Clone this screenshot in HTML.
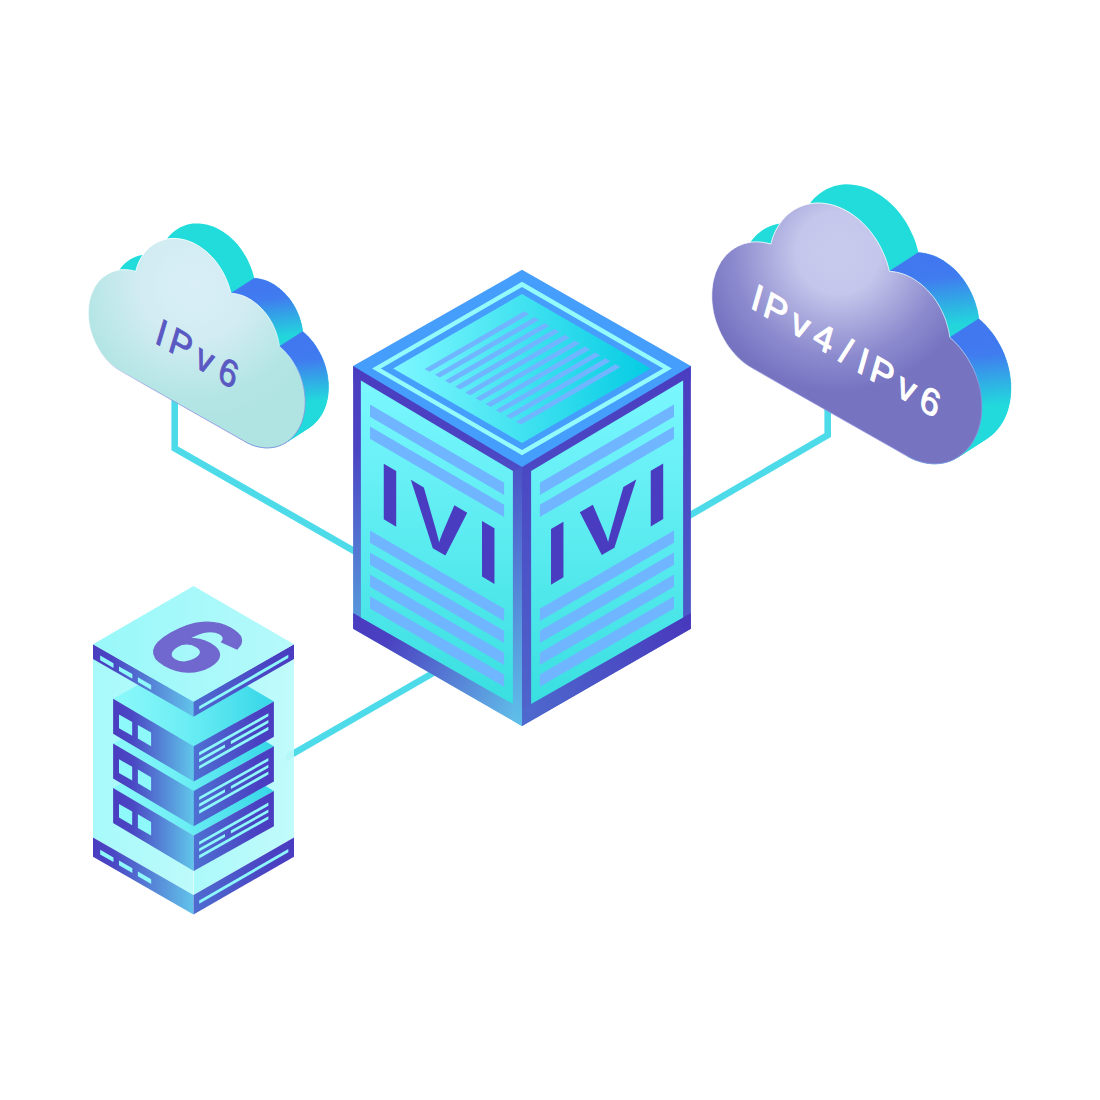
<!DOCTYPE html>
<html lang="en">
<head>
<meta charset="utf-8">
<title>IVI IPv4/IPv6 translation</title>
<style>
html,body{margin:0;padding:0;background:#ffffff;}
body{width:1100px;height:1100px;overflow:hidden;font-family:"Liberation Sans",sans-serif;}
svg{display:block;}
</style>
</head>
<body>
<svg width="1100" height="1100" viewBox="0 0 1100 1100">
<defs>

<linearGradient id="gTop" gradientUnits="userSpaceOnUse" x1="400" y1="368" x2="650" y2="368">
 <stop offset="0" stop-color="#7af6ff"/><stop offset="0.35" stop-color="#52e8f4"/><stop offset="1" stop-color="#05cce3"/></linearGradient>
<linearGradient id="gPanel" gradientUnits="userSpaceOnUse" x1="0" y1="380" x2="0" y2="705">
 <stop offset="0" stop-color="#7bf7ff"/><stop offset="1" stop-color="#39dfe0"/></linearGradient>
<linearGradient id="gFrameL" gradientUnits="userSpaceOnUse" x1="0" y1="366" x2="0" y2="640">
 <stop offset="0" stop-color="#4a3cc0"/><stop offset="0.3" stop-color="#4b44c3"/><stop offset="1" stop-color="#59a2de"/></linearGradient>
<linearGradient id="gStripL" gradientUnits="userSpaceOnUse" x1="0" y1="467" x2="0" y2="726">
 <stop offset="0" stop-color="#4c52c6"/><stop offset="1" stop-color="#5ec0ea"/></linearGradient>
<linearGradient id="gBandL" gradientUnits="userSpaceOnUse" x1="353" y1="620" x2="522" y2="717">
 <stop offset="0" stop-color="#4a3cc0"/><stop offset="0.2" stop-color="#4a40c1"/><stop offset="1" stop-color="#62c0ea"/></linearGradient>
<linearGradient id="gFrameR" gradientUnits="userSpaceOnUse" x1="0" y1="366" x2="0" y2="726">
 <stop offset="0" stop-color="#4a3cc0"/><stop offset="1" stop-color="#4e66cc"/></linearGradient>
<linearGradient id="gBandR" gradientUnits="userSpaceOnUse" x1="691" y1="620" x2="522" y2="717">
 <stop offset="0" stop-color="#4838bc"/><stop offset="1" stop-color="#4e6ace"/></linearGradient>

<linearGradient id="gSide3" gradientUnits="userSpaceOnUse" x1="265" y1="290" x2="271" y2="338">
 <stop offset="0" stop-color="#4178f0"/><stop offset="0.2" stop-color="#407cef"/><stop offset="1" stop-color="#22d6dc"/></linearGradient>
<linearGradient id="gSide4" gradientUnits="userSpaceOnUse" x1="305" y1="350" x2="310" y2="402">
 <stop offset="0" stop-color="#4178f0"/><stop offset="0.2" stop-color="#407cef"/><stop offset="1" stop-color="#22dadc"/></linearGradient>
<radialGradient id="gCloudL" gradientUnits="userSpaceOnUse" cx="195" cy="285" r="135">
 <stop offset="0" stop-color="#d9eef7"/><stop offset="0.4" stop-color="#d2ecf2"/><stop offset="0.85" stop-color="#b3e5e4"/><stop offset="1" stop-color="#b0e4e2"/></radialGradient>
<radialGradient id="gCloudR" gradientUnits="userSpaceOnUse" cx="190" cy="278" r="112">
 <stop offset="0" stop-color="#c8caed"/><stop offset="0.3" stop-color="#c4c6eb"/><stop offset="0.75" stop-color="#8c8ace"/><stop offset="1" stop-color="#7674c1"/></radialGradient>
<linearGradient id="gEdge" gradientUnits="userSpaceOnUse" x1="0" y1="240" x2="0" y2="450">
 <stop offset="0" stop-color="#ffffff" stop-opacity="0.9"/><stop offset="0.5" stop-color="#ffffff" stop-opacity="0.6"/><stop offset="0.7" stop-color="#8d8fe0" stop-opacity="0.7"/><stop offset="1" stop-color="#8d8fe0" stop-opacity="0.9"/></linearGradient>

<linearGradient id="gGlassL" gradientUnits="userSpaceOnUse" x1="93" y1="0" x2="193.5" y2="0">
 <stop offset="0" stop-color="#a0f9fa"/><stop offset="1" stop-color="#b8fafb"/></linearGradient>
<linearGradient id="gGlassR" gradientUnits="userSpaceOnUse" x1="193.5" y1="0" x2="294" y2="0">
 <stop offset="0" stop-color="#a5f9fa"/><stop offset="1" stop-color="#bdfafb"/></linearGradient>
<linearGradient id="gPlateTop" gradientUnits="userSpaceOnUse" x1="93" y1="644" x2="294" y2="644">
 <stop offset="0" stop-color="#98f8f9"/><stop offset="1" stop-color="#b6f9fb"/></linearGradient>
<linearGradient id="gSideL" gradientUnits="userSpaceOnUse" x1="93" y1="0" x2="193.5" y2="0">
 <stop offset="0" stop-color="#4a3cc0"/><stop offset="0.2" stop-color="#4a46c4"/><stop offset="1" stop-color="#62c4ea"/></linearGradient>
<linearGradient id="gSideR" gradientUnits="userSpaceOnUse" x1="193.5" y1="0" x2="294" y2="0">
 <stop offset="0" stop-color="#4e6cd0"/><stop offset="0.8" stop-color="#4a40c2"/><stop offset="1" stop-color="#4a3cc0"/></linearGradient>
<linearGradient id="gUnitL" gradientUnits="userSpaceOnUse" x1="113" y1="0" x2="193.5" y2="0">
 <stop offset="0" stop-color="#4a3cc0"/><stop offset="0.25" stop-color="#4a48c4"/><stop offset="1" stop-color="#60c6ea"/></linearGradient>
<linearGradient id="gUnitR" gradientUnits="userSpaceOnUse" x1="193.5" y1="0" x2="274" y2="0">
 <stop offset="0" stop-color="#4e70d2"/><stop offset="0.8" stop-color="#4a40c2"/><stop offset="1" stop-color="#4a3cc0"/></linearGradient>
<linearGradient id="gUnitTop" gradientUnits="userSpaceOnUse" x1="113" y1="0" x2="274" y2="0">
 <stop offset="0" stop-color="#8cf9fb"/><stop offset="0.45" stop-color="#6ceef4"/><stop offset="1" stop-color="#35d6e8"/></linearGradient>

</defs>
<rect width="1100" height="1100" fill="#ffffff"/>
<g fill="none" stroke="#4ddbea" stroke-width="6.6" stroke-linejoin="miter">
<polyline points="174.7,395 174.7,448.3 360,554.4"/>
<polyline points="827.7,400 827.7,435.2 685,518.2"/>
</g>
<polygon fill="#4ddbea" points="286,754 286,761.6 450,667 450,659.4"/>
<polygon fill="#469efc" points="522.0,269.8 690.9,366.1 690.9,380.0 522.0,480.0 353.1,380.0 353.1,366.1"/>
<polygon fill="#93fbfb" points="522.0,281.8 671.9,368.5 522.0,455.2 372.1,368.5"/>
<polygon fill="#469efc" points="522.0,286.9 663.1,368.5 522.0,450.1 380.9,368.5"/>
<polygon fill="url(#gTop)" points="522.0,294.0 650.8,368.5 522.0,443.0 393.2,368.5"/>
<polygon fill="#70b5ff" points="424.7,368.9 524.2,311.3 529.1,314.2 429.6,371.7"/>
<polygon fill="#70b5ff" points="434.9,374.8 534.4,317.2 539.2,320.1 439.8,377.6"/>
<polygon fill="#70b5ff" points="445.0,380.6 544.5,323.1 549.4,325.9 449.9,383.5"/>
<polygon fill="#70b5ff" points="455.1,386.5 554.6,329.0 559.5,331.8 460.1,389.4"/>
<polygon fill="#70b5ff" points="465.3,392.4 564.8,334.8 569.7,337.7 470.2,395.2"/>
<polygon fill="#70b5ff" points="475.5,398.3 575.0,340.7 579.9,343.5 480.4,401.1"/>
<polygon fill="#70b5ff" points="485.6,404.1 585.1,346.6 590.0,349.4 490.5,407.0"/>
<polygon fill="#70b5ff" points="495.8,410.0 595.2,352.4 600.1,355.3 500.6,412.8"/>
<polygon fill="#70b5ff" points="505.9,415.9 605.4,358.3 610.3,361.2 510.8,418.7"/>
<polygon fill="#70b5ff" points="516.0,421.8 615.5,364.2 620.5,367.0 521.0,424.6"/>
<polygon fill="url(#gFrameL)" points="353.1,366.1 522.0,467.1 522.0,725.9 353.1,628.8"/>
<polygon fill="url(#gBandL)" points="353.1,613.0 522.0,709.4 522.0,725.9 353.1,628.8"/>
<polygon fill="url(#gStripL)" points="512.9,470.9 522.0,467.1 522.0,725.9 512.9,720.7"/>
<polygon fill="url(#gPanel)" points="360.9,380.6 512.9,470.9 512.9,704.1 360.9,617.6"/>
<polygon fill="#70b5ff" points="370.0,404.5 504.1,482.8 504.1,495.1 370.0,416.8"/>
<polygon fill="#70b5ff" points="370.0,426.4 504.1,504.7 504.1,517.0 370.0,438.7"/>
<polygon fill="#70b5ff" points="370.0,530.4 504.1,608.7 504.1,621.0 370.0,542.7"/>
<polygon fill="#70b5ff" points="370.0,552.4 504.1,630.7 504.1,643.0 370.0,564.7"/>
<polygon fill="#70b5ff" points="370.0,574.4 504.1,652.7 504.1,665.0 370.0,586.7"/>
<polygon fill="#70b5ff" points="370.0,596.2 504.1,674.5 504.1,686.8 370.0,608.5"/>
<polygon fill="url(#gFrameR)" points="690.9,366.1 522.0,467.1 522.0,725.9 690.9,628.8"/>
<polygon fill="url(#gBandR)" points="690.9,613.0 522.0,709.4 522.0,725.9 690.9,628.8"/>
<polygon fill="url(#gPanel)" points="683.1,380.6 531.1,470.9 531.1,704.1 683.1,617.6"/>
<polygon fill="#70b5ff" points="674.0,404.5 539.9,482.8 539.9,495.1 674.0,416.8"/>
<polygon fill="#70b5ff" points="674.0,426.4 539.9,504.7 539.9,517.0 674.0,438.7"/>
<polygon fill="#70b5ff" points="674.0,530.4 539.9,608.7 539.9,621.0 674.0,542.7"/>
<polygon fill="#70b5ff" points="674.0,552.4 539.9,630.7 539.9,643.0 674.0,564.7"/>
<polygon fill="#70b5ff" points="674.0,574.4 539.9,652.7 539.9,665.0 674.0,586.7"/>
<polygon fill="#70b5ff" points="674.0,596.2 539.9,674.5 539.9,686.8 674.0,608.5"/>
<g font-family="'Liberation Sans', sans-serif" font-weight="700" font-size="80.7" fill="#4a3cc0">
<text id="iviL" transform="matrix(1.07 0.6245 0 1 0 0)" x="353.2 383.5 445" y="295.4">IVI</text>
<text id="iviR" transform="matrix(1.07 -0.6245 0 1 0 0)" x="509.5 541.3 602.8" y="906.2">IVI</text>
</g>
<g id="cl">
<polygon fill="#22dcdc" points="144.1,356.1 141.1,354.3 138.2,352.3 135.4,350.0 132.7,347.6 130.1,344.9 127.7,342.1 125.3,339.1 123.2,336.0 121.2,332.7 119.3,329.3 117.7,325.8 116.2,322.2 114.9,318.6 113.8,314.9 112.9,311.2 112.3,307.4 111.8,303.7 111.6,300.0 111.6,296.3 111.8,292.7 112.2,289.1 112.8,285.7 113.7,282.3 114.7,279.1 116.0,276.1 117.4,273.2 119.0,270.4 120.9,267.8 122.8,265.5 125.0,263.3 127.3,261.4 129.7,259.7 132.3,258.2 135.0,257.0 137.8,256.0 140.7,255.3 143.6,254.8 146.6,254.6 149.7,254.7 152.8,255.0 155.9,255.6 159.0,256.4 160.0,252.8 161.2,249.4 162.6,246.1 164.3,243.0 166.1,240.1 168.1,237.3 170.3,234.8 172.7,232.5 175.3,230.5 177.9,228.7 180.8,227.1 183.7,225.9 186.7,224.8 189.9,224.1 193.1,223.6 196.4,223.4 199.7,223.5 203.1,223.9 206.5,224.5 209.8,225.4 213.2,226.6 216.5,228.0 219.8,229.7 223.1,231.7 226.2,233.9 229.3,236.3 232.2,238.9 235.1,241.8 237.8,244.8 240.3,248.0 242.7,251.4 244.9,254.9 247.0,258.6 248.8,262.4 250.5,266.2 252.0,270.2 253.2,274.2 254.2,278.2 257.1,278.5 260.0,279.0 262.9,279.7 265.8,280.6 268.7,281.8 271.5,283.2 274.3,284.8 277.0,286.7 279.7,288.7 282.2,290.9 284.7,293.3 287.0,295.9 289.3,298.6 291.4,301.5 293.3,304.5 295.1,307.6 296.7,310.8 298.2,314.2 299.5,317.5 300.5,321.0 301.5,324.4 302.2,327.9 302.7,331.4 305.5,333.9 308.2,336.6 310.8,339.5 313.3,342.6 315.6,345.8 317.7,349.2 319.7,352.7 321.5,356.2 323.1,359.9 324.5,363.7 325.7,367.5 326.7,371.4 327.5,375.3 328.0,379.2 328.4,383.0 328.5,386.9 328.4,390.7 328.1,394.4 327.6,398.0 326.8,401.6 325.9,405.0 324.7,408.3 323.3,411.4 321.7,414.4 320.0,417.1 318.0,419.7 315.9,422.1 313.6,424.3 311.2,426.2 308.6,427.9 305.9,429.4 303.1,430.6 300.2,431.6 297.2,432.3 294.1,432.7 290.9,432.9 287.8,432.8 284.5,432.4 281.3,431.8 278.1,430.9 274.9,429.8 271.7,428.4 268.5,426.7"/>
<path fill="url(#gSide3)" stroke="url(#gSide3)" stroke-width="0.4" stroke-linejoin="round" d="M254.2 278.2L257.1 278.5L233.8 293.5L230.9 293.2ZM257.1 278.5L260.0 279.0L236.7 294.0L233.8 293.5ZM260.0 279.0L262.9 279.7L239.6 294.7L236.7 294.0ZM262.9 279.7L265.8 280.6L242.5 295.6L239.6 294.7ZM265.8 280.6L268.7 281.8L245.4 296.8L242.5 295.6ZM268.7 281.8L271.5 283.2L248.2 298.2L245.4 296.8ZM271.5 283.2L274.3 284.8L251.0 299.8L248.2 298.2ZM274.3 284.8L277.0 286.7L253.7 301.7L251.0 299.8ZM277.0 286.7L279.7 288.7L256.4 303.7L253.7 301.7ZM279.7 288.7L282.2 290.9L258.9 305.9L256.4 303.7ZM282.2 290.9L284.7 293.3L261.4 308.3L258.9 305.9ZM284.7 293.3L287.0 295.9L263.7 310.9L261.4 308.3ZM287.0 295.9L289.3 298.6L266.0 313.6L263.7 310.9ZM289.3 298.6L291.4 301.5L268.1 316.5L266.0 313.6ZM291.4 301.5L293.3 304.5L270.0 319.5L268.1 316.5ZM293.3 304.5L295.1 307.6L271.8 322.6L270.0 319.5ZM295.1 307.6L296.7 310.8L273.4 325.8L271.8 322.6ZM296.7 310.8L298.2 314.2L274.9 329.2L273.4 325.8ZM298.2 314.2L299.5 317.5L276.2 332.5L274.9 329.2ZM299.5 317.5L300.5 321.0L277.2 336.0L276.2 332.5ZM300.5 321.0L301.5 324.4L278.2 339.4L277.2 336.0ZM301.5 324.4L302.2 327.9L278.9 342.9L278.2 339.4ZM302.2 327.9L302.7 331.4L279.4 346.4L278.9 342.9Z"/>
<path fill="url(#gSide4)" stroke="url(#gSide4)" stroke-width="0.4" stroke-linejoin="round" d="M302.7 331.4L305.5 333.9L282.2 348.9L279.4 346.4ZM305.5 333.9L308.2 336.6L284.9 351.6L282.2 348.9ZM308.2 336.6L310.8 339.5L287.5 354.5L284.9 351.6ZM310.8 339.5L313.3 342.6L290.0 357.6L287.5 354.5ZM313.3 342.6L315.6 345.8L292.3 360.8L290.0 357.6ZM315.6 345.8L317.7 349.2L294.4 364.2L292.3 360.8ZM317.7 349.2L319.7 352.7L296.4 367.7L294.4 364.2ZM319.7 352.7L321.5 356.2L298.2 371.2L296.4 367.7ZM321.5 356.2L323.1 359.9L299.8 374.9L298.2 371.2ZM323.1 359.9L324.5 363.7L301.2 378.7L299.8 374.9ZM324.5 363.7L325.7 367.5L302.4 382.5L301.2 378.7ZM325.7 367.5L326.7 371.4L303.4 386.4L302.4 382.5ZM326.7 371.4L327.5 375.3L304.2 390.3L303.4 386.4ZM327.5 375.3L328.0 379.2L304.7 394.2L304.2 390.3ZM328.0 379.2L328.4 383.0L305.1 398.0L304.7 394.2ZM328.4 383.0L328.5 386.9L305.2 401.9L305.1 398.0ZM328.5 386.9L328.4 390.7L305.1 405.7L305.2 401.9ZM328.4 390.7L328.1 394.4L304.8 409.4L305.1 405.7ZM328.1 394.4L327.6 398.0L304.3 413.0L304.8 409.4ZM327.6 398.0L326.8 401.6L303.5 416.6L304.3 413.0ZM326.8 401.6L325.9 405.0L302.6 420.0L303.5 416.6ZM325.9 405.0L324.7 408.3L301.4 423.3L302.6 420.0ZM324.7 408.3L323.3 411.4L300.0 426.4L301.4 423.3ZM323.3 411.4L321.7 414.4L298.4 429.4L300.0 426.4ZM321.7 414.4L320.0 417.1L296.7 432.1L298.4 429.4ZM320.0 417.1L318.0 419.7L294.7 434.7L296.7 432.1ZM318.0 419.7L315.9 422.1L292.6 437.1L294.7 434.7ZM315.9 422.1L313.6 424.3L290.3 439.3L292.6 437.1ZM313.6 424.3L311.2 426.2L287.9 441.2L290.3 439.3ZM311.2 426.2L308.6 427.9L285.3 442.9L287.9 441.2ZM285.3 442.9L282.6 444.4L305.9 429.4L308.6 427.9ZM282.6 444.4L279.8 445.6L303.1 430.6L305.9 429.4ZM279.8 445.6L276.9 446.6L300.2 431.6L303.1 430.6ZM276.9 446.6L273.9 447.3L297.2 432.3L300.2 431.6ZM273.9 447.3L270.8 447.7L294.1 432.7L297.2 432.3ZM270.8 447.7L267.6 447.9L290.9 432.9L294.1 432.7ZM267.6 447.9L264.5 447.8L287.8 432.8L290.9 432.9ZM264.5 447.8L261.2 447.4L284.5 432.4L287.8 432.8ZM261.2 447.4L258.0 446.8L281.3 431.8L284.5 432.4ZM258.0 446.8L254.8 445.9L278.1 430.9L281.3 431.8ZM254.8 445.9L251.6 444.8L274.9 429.8L278.1 430.9ZM251.6 444.8L248.4 443.4L271.7 428.4L274.9 429.8ZM248.4 443.4L245.2 441.7L268.5 426.7L271.7 428.4Z"/>
</g>
<polygon fill="url(#gCloudL)" stroke="url(#gEdge)" stroke-width="1" points="120.8,371.1 117.8,369.3 114.9,367.3 112.1,365.0 109.4,362.6 106.8,359.9 104.4,357.1 102.0,354.1 99.9,351.0 97.9,347.7 96.0,344.3 94.4,340.8 92.9,337.2 91.6,333.6 90.5,329.9 89.6,326.2 89.0,322.4 88.5,318.7 88.3,315.0 88.3,311.3 88.5,307.7 88.9,304.1 89.5,300.7 90.4,297.3 91.4,294.1 92.7,291.1 94.1,288.2 95.7,285.4 97.6,282.8 99.5,280.5 101.7,278.3 104.0,276.4 106.4,274.7 109.0,273.2 111.7,272.0 114.5,271.0 117.4,270.3 120.3,269.8 123.3,269.6 126.4,269.7 129.5,270.0 132.6,270.6 135.7,271.4 136.7,267.8 137.9,264.4 139.3,261.1 141.0,258.0 142.8,255.1 144.8,252.3 147.0,249.8 149.4,247.5 152.0,245.5 154.6,243.7 157.5,242.1 160.4,240.9 163.4,239.8 166.6,239.1 169.8,238.6 173.1,238.4 176.4,238.5 179.8,238.9 183.2,239.5 186.5,240.4 189.9,241.6 193.2,243.0 196.5,244.7 199.8,246.7 202.9,248.9 206.0,251.3 208.9,253.9 211.8,256.8 214.5,259.8 217.0,263.0 219.4,266.4 221.6,269.9 223.7,273.6 225.5,277.4 227.2,281.2 228.7,285.2 229.9,289.2 230.9,293.2 233.8,293.5 236.7,294.0 239.6,294.7 242.5,295.6 245.4,296.8 248.2,298.2 251.0,299.8 253.7,301.7 256.4,303.7 258.9,305.9 261.4,308.3 263.7,310.9 266.0,313.6 268.1,316.5 270.0,319.5 271.8,322.6 273.4,325.8 274.9,329.2 276.2,332.5 277.2,336.0 278.2,339.4 278.9,342.9 279.4,346.4 282.2,348.9 284.9,351.6 287.5,354.5 290.0,357.6 292.3,360.8 294.4,364.2 296.4,367.7 298.2,371.2 299.8,374.9 301.2,378.7 302.4,382.5 303.4,386.4 304.2,390.3 304.7,394.2 305.1,398.0 305.2,401.9 305.1,405.7 304.8,409.4 304.3,413.0 303.5,416.6 302.6,420.0 301.4,423.3 300.0,426.4 298.4,429.4 296.7,432.1 294.7,434.7 292.6,437.1 290.3,439.3 287.9,441.2 285.3,442.9 282.6,444.4 279.8,445.6 276.9,446.6 273.9,447.3 270.8,447.7 267.6,447.9 264.5,447.8 261.2,447.4 258.0,446.8 254.8,445.9 251.6,444.8 248.4,443.4 245.2,441.7"/>
<text id="t6" font-family="'Liberation Sans', sans-serif" font-size="36.4" letter-spacing="6.8" dx="0 -1.5 0 1.5" fill="#5a58c2" stroke="#5a58c2" stroke-width="0.9" transform="matrix(0.857 0.515 -0.289 0.957 153.8 342)">IPv6</text>
<g transform="translate(601.9 -93.8) scale(1.245)">
<g id="cr">
<polygon fill="#22dcdc" points="144.1,356.1 141.1,354.3 138.2,352.3 135.4,350.0 132.7,347.6 130.1,344.9 127.7,342.1 125.3,339.1 123.2,336.0 121.2,332.7 119.3,329.3 117.7,325.8 116.2,322.2 114.9,318.6 113.8,314.9 112.9,311.2 112.3,307.4 111.8,303.7 111.6,300.0 111.6,296.3 111.8,292.7 112.2,289.1 112.8,285.7 113.7,282.3 114.7,279.1 116.0,276.1 117.4,273.2 119.0,270.4 120.9,267.8 122.8,265.5 125.0,263.3 127.3,261.4 129.7,259.7 132.3,258.2 135.0,257.0 137.8,256.0 140.7,255.3 143.6,254.8 146.6,254.6 149.7,254.7 152.8,255.0 155.9,255.6 159.0,256.4 160.0,252.8 161.2,249.4 162.6,246.1 164.3,243.0 166.1,240.1 168.1,237.3 170.3,234.8 172.7,232.5 175.3,230.5 177.9,228.7 180.8,227.1 183.7,225.9 186.7,224.8 189.9,224.1 193.1,223.6 196.4,223.4 199.7,223.5 203.1,223.9 206.5,224.5 209.8,225.4 213.2,226.6 216.5,228.0 219.8,229.7 223.1,231.7 226.2,233.9 229.3,236.3 232.2,238.9 235.1,241.8 237.8,244.8 240.3,248.0 242.7,251.4 244.9,254.9 247.0,258.6 248.8,262.4 250.5,266.2 252.0,270.2 253.2,274.2 254.2,278.2 257.1,278.5 260.0,279.0 262.9,279.7 265.8,280.6 268.7,281.8 271.5,283.2 274.3,284.8 277.0,286.7 279.7,288.7 282.2,290.9 284.7,293.3 287.0,295.9 289.3,298.6 291.4,301.5 293.3,304.5 295.1,307.6 296.7,310.8 298.2,314.2 299.5,317.5 300.5,321.0 301.5,324.4 302.2,327.9 302.7,331.4 305.5,333.9 308.2,336.6 310.8,339.5 313.3,342.6 315.6,345.8 317.7,349.2 319.7,352.7 321.5,356.2 323.1,359.9 324.5,363.7 325.7,367.5 326.7,371.4 327.5,375.3 328.0,379.2 328.4,383.0 328.5,386.9 328.4,390.7 328.1,394.4 327.6,398.0 326.8,401.6 325.9,405.0 324.7,408.3 323.3,411.4 321.7,414.4 320.0,417.1 318.0,419.7 315.9,422.1 313.6,424.3 311.2,426.2 308.6,427.9 305.9,429.4 303.1,430.6 300.2,431.6 297.2,432.3 294.1,432.7 290.9,432.9 287.8,432.8 284.5,432.4 281.3,431.8 278.1,430.9 274.9,429.8 271.7,428.4 268.5,426.7"/>
<path fill="url(#gSide3)" stroke="url(#gSide3)" stroke-width="0.4" stroke-linejoin="round" d="M254.2 278.2L257.1 278.5L233.8 293.5L230.9 293.2ZM257.1 278.5L260.0 279.0L236.7 294.0L233.8 293.5ZM260.0 279.0L262.9 279.7L239.6 294.7L236.7 294.0ZM262.9 279.7L265.8 280.6L242.5 295.6L239.6 294.7ZM265.8 280.6L268.7 281.8L245.4 296.8L242.5 295.6ZM268.7 281.8L271.5 283.2L248.2 298.2L245.4 296.8ZM271.5 283.2L274.3 284.8L251.0 299.8L248.2 298.2ZM274.3 284.8L277.0 286.7L253.7 301.7L251.0 299.8ZM277.0 286.7L279.7 288.7L256.4 303.7L253.7 301.7ZM279.7 288.7L282.2 290.9L258.9 305.9L256.4 303.7ZM282.2 290.9L284.7 293.3L261.4 308.3L258.9 305.9ZM284.7 293.3L287.0 295.9L263.7 310.9L261.4 308.3ZM287.0 295.9L289.3 298.6L266.0 313.6L263.7 310.9ZM289.3 298.6L291.4 301.5L268.1 316.5L266.0 313.6ZM291.4 301.5L293.3 304.5L270.0 319.5L268.1 316.5ZM293.3 304.5L295.1 307.6L271.8 322.6L270.0 319.5ZM295.1 307.6L296.7 310.8L273.4 325.8L271.8 322.6ZM296.7 310.8L298.2 314.2L274.9 329.2L273.4 325.8ZM298.2 314.2L299.5 317.5L276.2 332.5L274.9 329.2ZM299.5 317.5L300.5 321.0L277.2 336.0L276.2 332.5ZM300.5 321.0L301.5 324.4L278.2 339.4L277.2 336.0ZM301.5 324.4L302.2 327.9L278.9 342.9L278.2 339.4ZM302.2 327.9L302.7 331.4L279.4 346.4L278.9 342.9Z"/>
<path fill="url(#gSide4)" stroke="url(#gSide4)" stroke-width="0.4" stroke-linejoin="round" d="M302.7 331.4L305.5 333.9L282.2 348.9L279.4 346.4ZM305.5 333.9L308.2 336.6L284.9 351.6L282.2 348.9ZM308.2 336.6L310.8 339.5L287.5 354.5L284.9 351.6ZM310.8 339.5L313.3 342.6L290.0 357.6L287.5 354.5ZM313.3 342.6L315.6 345.8L292.3 360.8L290.0 357.6ZM315.6 345.8L317.7 349.2L294.4 364.2L292.3 360.8ZM317.7 349.2L319.7 352.7L296.4 367.7L294.4 364.2ZM319.7 352.7L321.5 356.2L298.2 371.2L296.4 367.7ZM321.5 356.2L323.1 359.9L299.8 374.9L298.2 371.2ZM323.1 359.9L324.5 363.7L301.2 378.7L299.8 374.9ZM324.5 363.7L325.7 367.5L302.4 382.5L301.2 378.7ZM325.7 367.5L326.7 371.4L303.4 386.4L302.4 382.5ZM326.7 371.4L327.5 375.3L304.2 390.3L303.4 386.4ZM327.5 375.3L328.0 379.2L304.7 394.2L304.2 390.3ZM328.0 379.2L328.4 383.0L305.1 398.0L304.7 394.2ZM328.4 383.0L328.5 386.9L305.2 401.9L305.1 398.0ZM328.5 386.9L328.4 390.7L305.1 405.7L305.2 401.9ZM328.4 390.7L328.1 394.4L304.8 409.4L305.1 405.7ZM328.1 394.4L327.6 398.0L304.3 413.0L304.8 409.4ZM327.6 398.0L326.8 401.6L303.5 416.6L304.3 413.0ZM326.8 401.6L325.9 405.0L302.6 420.0L303.5 416.6ZM325.9 405.0L324.7 408.3L301.4 423.3L302.6 420.0ZM324.7 408.3L323.3 411.4L300.0 426.4L301.4 423.3ZM323.3 411.4L321.7 414.4L298.4 429.4L300.0 426.4ZM321.7 414.4L320.0 417.1L296.7 432.1L298.4 429.4ZM320.0 417.1L318.0 419.7L294.7 434.7L296.7 432.1ZM318.0 419.7L315.9 422.1L292.6 437.1L294.7 434.7ZM315.9 422.1L313.6 424.3L290.3 439.3L292.6 437.1ZM313.6 424.3L311.2 426.2L287.9 441.2L290.3 439.3ZM311.2 426.2L308.6 427.9L285.3 442.9L287.9 441.2ZM285.3 442.9L282.6 444.4L305.9 429.4L308.6 427.9ZM282.6 444.4L279.8 445.6L303.1 430.6L305.9 429.4ZM279.8 445.6L276.9 446.6L300.2 431.6L303.1 430.6ZM276.9 446.6L273.9 447.3L297.2 432.3L300.2 431.6ZM273.9 447.3L270.8 447.7L294.1 432.7L297.2 432.3ZM270.8 447.7L267.6 447.9L290.9 432.9L294.1 432.7ZM267.6 447.9L264.5 447.8L287.8 432.8L290.9 432.9ZM264.5 447.8L261.2 447.4L284.5 432.4L287.8 432.8ZM261.2 447.4L258.0 446.8L281.3 431.8L284.5 432.4ZM258.0 446.8L254.8 445.9L278.1 430.9L281.3 431.8ZM254.8 445.9L251.6 444.8L274.9 429.8L278.1 430.9ZM251.6 444.8L248.4 443.4L271.7 428.4L274.9 429.8ZM248.4 443.4L245.2 441.7L268.5 426.7L271.7 428.4Z"/>
</g>
<polygon fill="url(#gCloudR)" stroke="url(#gEdge)" stroke-width="0.8" points="120.8,371.1 117.8,369.3 114.9,367.3 112.1,365.0 109.4,362.6 106.8,359.9 104.4,357.1 102.0,354.1 99.9,351.0 97.9,347.7 96.0,344.3 94.4,340.8 92.9,337.2 91.6,333.6 90.5,329.9 89.6,326.2 89.0,322.4 88.5,318.7 88.3,315.0 88.3,311.3 88.5,307.7 88.9,304.1 89.5,300.7 90.4,297.3 91.4,294.1 92.7,291.1 94.1,288.2 95.7,285.4 97.6,282.8 99.5,280.5 101.7,278.3 104.0,276.4 106.4,274.7 109.0,273.2 111.7,272.0 114.5,271.0 117.4,270.3 120.3,269.8 123.3,269.6 126.4,269.7 129.5,270.0 132.6,270.6 135.7,271.4 136.7,267.8 137.9,264.4 139.3,261.1 141.0,258.0 142.8,255.1 144.8,252.3 147.0,249.8 149.4,247.5 152.0,245.5 154.6,243.7 157.5,242.1 160.4,240.9 163.4,239.8 166.6,239.1 169.8,238.6 173.1,238.4 176.4,238.5 179.8,238.9 183.2,239.5 186.5,240.4 189.9,241.6 193.2,243.0 196.5,244.7 199.8,246.7 202.9,248.9 206.0,251.3 208.9,253.9 211.8,256.8 214.5,259.8 217.0,263.0 219.4,266.4 221.6,269.9 223.7,273.6 225.5,277.4 227.2,281.2 228.7,285.2 229.9,289.2 230.9,293.2 233.8,293.5 236.7,294.0 239.6,294.7 242.5,295.6 245.4,296.8 248.2,298.2 251.0,299.8 253.7,301.7 256.4,303.7 258.9,305.9 261.4,308.3 263.7,310.9 266.0,313.6 268.1,316.5 270.0,319.5 271.8,322.6 273.4,325.8 274.9,329.2 276.2,332.5 277.2,336.0 278.2,339.4 278.9,342.9 279.4,346.4 282.2,348.9 284.9,351.6 287.5,354.5 290.0,357.6 292.3,360.8 294.4,364.2 296.4,367.7 298.2,371.2 299.8,374.9 301.2,378.7 302.4,382.5 303.4,386.4 304.2,390.3 304.7,394.2 305.1,398.0 305.2,401.9 305.1,405.7 304.8,409.4 304.3,413.0 303.5,416.6 302.6,420.0 301.4,423.3 300.0,426.4 298.4,429.4 296.7,432.1 294.7,434.7 292.6,437.1 290.3,439.3 287.9,441.2 285.3,442.9 282.6,444.4 279.8,445.6 276.9,446.6 273.9,447.3 270.8,447.7 267.6,447.9 264.5,447.8 261.2,447.4 258.0,446.8 254.8,445.9 251.6,444.8 248.4,443.4 245.2,441.7"/>
</g>
<text id="t46" font-family="'Liberation Sans', sans-serif" font-size="38" letter-spacing="6.8" dx="0 -3 0 0 3.3 2.4 -2.4 0 0" fill="#ffffff" stroke="#ffffff" stroke-width="1.2" transform="matrix(0.857 0.515 -0.262 0.913 749.5 307)">IPv4/IPv6</text>
<polygon fill="url(#gGlassL)" fill-opacity="0.93" points="93.0,644.2 193.5,702.0 193.5,895.1 93.0,837.6"/>
<polygon fill="url(#gGlassR)" fill-opacity="0.93" points="193.5,702.0 294.0,644.2 294.0,837.6 193.5,895.1"/>
<rect x="193.1" y="868" width="0.9" height="27" fill="#e4fdfe" opacity="0.8"/>
<polygon fill="url(#gSideL)" points="93.0,837.6 193.5,895.1 193.5,914.6 93.0,856.7"/>
<polygon fill="url(#gSideR)" points="193.5,895.1 294.0,837.6 294.0,856.7 193.5,914.6"/>
<polygon fill="url(#gUnitTop)" points="193.7,743.4 273.9,791.0 193.7,835.6 113.1,788.1"/>
<polygon fill="url(#gUnitL)" points="113.1,788.1 193.7,835.6 193.7,871.0 113.1,823.1"/>
<polygon fill="url(#gUnitR)" points="193.7,835.6 273.9,791.0 273.9,826.2 193.7,871.0"/>
<polygon fill="#8df9fb" points="119.0,803.9 132.2,811.5 132.2,825.2 119.0,817.6"/>
<polygon fill="#8df9fb" points="137.9,814.3 151.1,821.9 151.1,835.6 137.9,828.0"/>
<polygon fill="#8df9fb" points="199.1,841.7 268.4,802.6 268.4,805.7 199.1,844.8"/>
<polygon fill="#8df9fb" points="199.1,848.5 225.0,833.9 225.0,837.0 199.1,851.6"/>
<polygon fill="#8df9fb" points="230.9,830.5 268.4,809.4 268.4,812.5 230.9,833.6"/>
<polygon fill="#8df9fb" points="199.1,855.3 268.4,816.2 268.4,819.3 199.1,858.4"/>
<polygon fill="url(#gUnitTop)" points="193.7,698.7 273.9,746.3 193.7,790.9 113.1,743.4"/>
<polygon fill="url(#gUnitL)" points="113.1,743.4 193.7,790.9 193.7,826.3 113.1,778.4"/>
<polygon fill="url(#gUnitR)" points="193.7,790.9 273.9,746.3 273.9,781.5 193.7,826.3"/>
<polygon fill="#8df9fb" points="119.0,759.2 132.2,766.8 132.2,780.5 119.0,772.9"/>
<polygon fill="#8df9fb" points="137.9,769.6 151.1,777.2 151.1,790.9 137.9,783.3"/>
<polygon fill="#8df9fb" points="199.1,797.0 268.4,757.9 268.4,761.0 199.1,800.1"/>
<polygon fill="#8df9fb" points="199.1,803.8 225.0,789.2 225.0,792.3 199.1,806.9"/>
<polygon fill="#8df9fb" points="230.9,785.9 268.4,764.7 268.4,767.8 230.9,789.0"/>
<polygon fill="#8df9fb" points="199.1,810.6 268.4,771.5 268.4,774.6 199.1,813.7"/>
<polygon fill="url(#gUnitTop)" points="193.7,654.0 273.9,701.6 193.7,746.2 113.1,698.7"/>
<polygon fill="url(#gUnitL)" points="113.1,698.7 193.7,746.2 193.7,781.6 113.1,733.7"/>
<polygon fill="url(#gUnitR)" points="193.7,746.2 273.9,701.6 273.9,736.8 193.7,781.6"/>
<polygon fill="#8df9fb" points="119.0,714.5 132.2,722.1 132.2,735.8 119.0,728.2"/>
<polygon fill="#8df9fb" points="137.9,724.9 151.1,732.5 151.1,746.2 137.9,738.6"/>
<polygon fill="#8df9fb" points="199.1,752.3 268.4,713.2 268.4,716.3 199.1,755.4"/>
<polygon fill="#8df9fb" points="199.1,759.1 225.0,744.5 225.0,747.6 199.1,762.2"/>
<polygon fill="#8df9fb" points="230.9,741.1 268.4,720.0 268.4,723.1 230.9,744.2"/>
<polygon fill="#8df9fb" points="199.1,765.9 268.4,726.8 268.4,729.9 199.1,769.0"/>
<polygon fill="url(#gSideL)" points="93.0,644.2 193.5,701.6 193.5,716.8 93.0,658.9"/>
<polygon fill="url(#gSideR)" points="193.5,701.6 294.0,644.2 294.0,658.9 193.5,716.8"/>
<polygon fill="url(#gPlateTop)" points="193.5,586.1 294.0,644.2 193.5,701.8 93.0,644.2"/>
<polygon fill="#8df9fb" points="100.2,655.6 113.5,663.2 113.5,667.9 100.2,660.3"/>
<polygon fill="#8df9fb" points="119.0,666.4 132.4,674.1 132.4,678.8 119.0,671.1"/>
<polygon fill="#8df9fb" points="137.9,677.3 151.2,685.0 151.2,689.7 137.9,682.0"/>
<polygon fill="#8df9fb" points="199.2,706.2 288.3,654.8 288.3,658.1 199.2,709.5"/>
<polygon fill="#8df9fb" points="100.2,849.8 113.5,857.4 113.5,862.1 100.2,854.5"/>
<polygon fill="#8df9fb" points="119.0,860.6 132.4,868.3 132.4,873.0 119.0,865.3"/>
<polygon fill="#8df9fb" points="137.9,871.5 151.2,879.2 151.2,883.9 137.9,876.2"/>
<polygon fill="#8df9fb" points="199.2,900.4 288.3,849.0 288.3,852.3 199.2,903.7"/>
<text id="six" font-family="'Liberation Sans', sans-serif" font-weight="700" font-size="100" fill="#7068ce" stroke="#7068ce" stroke-width="1.8" stroke-linejoin="miter" transform="matrix(0.9959 0.5750 -0.9180 0.5300 142.6 651.1)" x="-4.9" y="0.6">6</text>
</svg>
</body>
</html>
